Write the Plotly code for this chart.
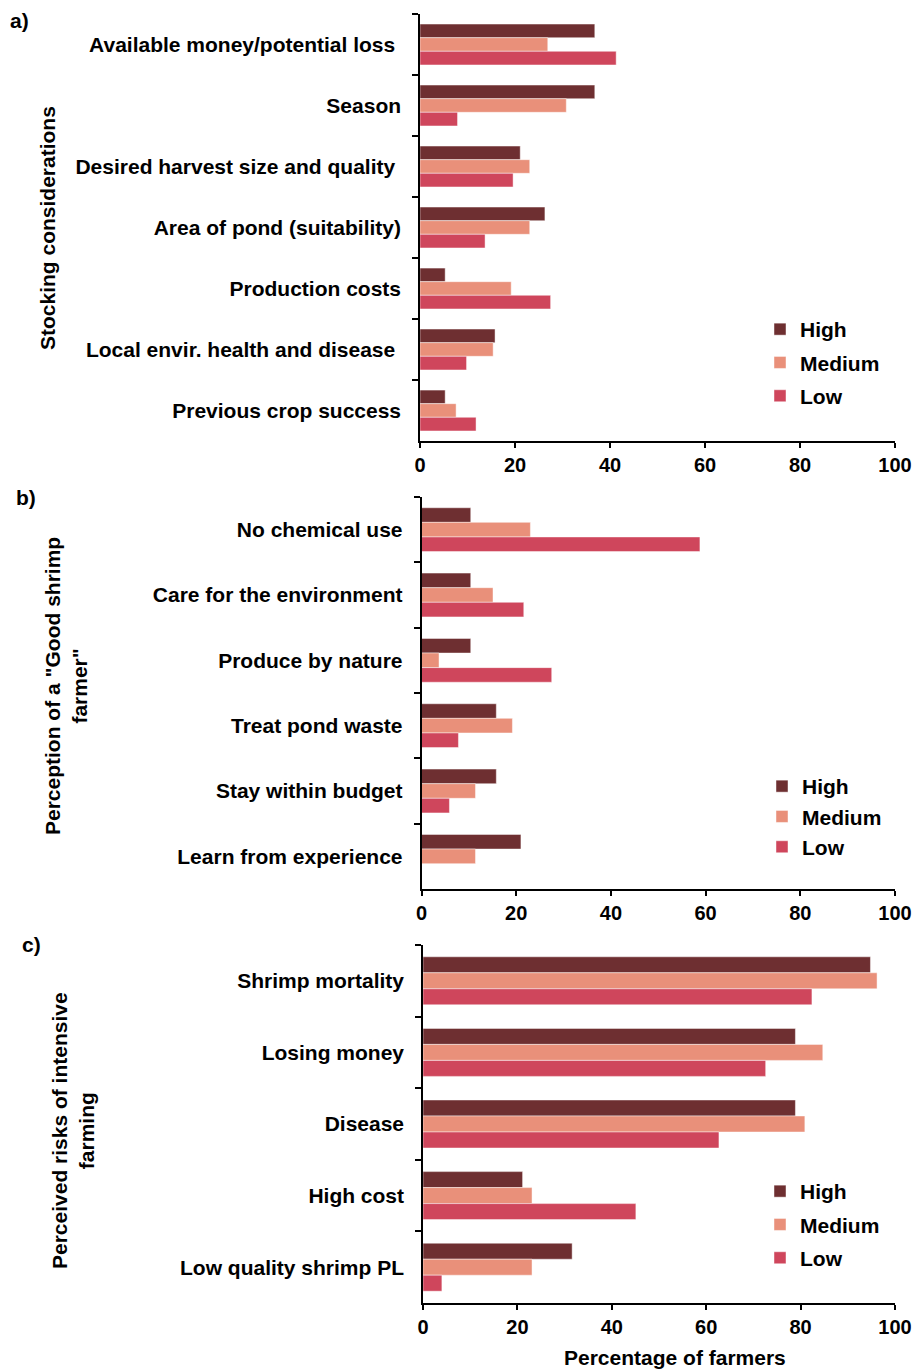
import plotly.graph_objects as go

W, H = 914, 1369

# ---- data -------------------------------------------------------------
levels = ["High", "Medium", "Low"]
colors = {"High": "#6E2F31", "Medium": "#E9907A", "Low": "#CF465C"}

stock_cats = [
    "Available money/potential loss\u00a0",
    "Season",
    "Desired harvest size and quality\u00a0",
    "Area of pond (suitability)",
    "Production costs",
    "Local envir. health and disease\u00a0",
    "Previous crop success",
]
stock_high = [36.8, 36.8, 21.1, 26.3, 5.3, 15.8, 5.3]
stock_medium = [26.9, 30.8, 23.1, 23.1, 19.2, 15.4, 7.6]
stock_low = [41.3, 7.9, 19.6, 13.7, 27.5, 9.8, 11.8]

good_cats = [
    "No chemical use",
    "Care for the environment",
    "Produce by nature",
    "Treat pond waste",
    "Stay within budget",
    "Learn from experience",
]
good_high = [10.4, 10.4, 10.4, 15.8, 15.8, 21.0]
good_medium = [23.0, 15.1, 3.7, 19.2, 11.4, 11.4]
good_low = [58.8, 21.6, 27.5, 7.8, 5.9, 0.0]

risk_cats = [
    "Shrimp mortality",
    "Losing money",
    "Disease",
    "High cost",
    "Low quality shrimp PL",
]
risk_high = [94.8, 78.9, 78.9, 21.1, 31.6]
risk_medium = [96.2, 84.7, 80.9, 23.1, 23.1]
risk_low = [82.4, 72.6, 62.7, 45.1, 4.0]

x_ticks = [0, 20, 40, 60, 80, 100]

panels = [
    (stock_cats, [stock_high, stock_medium, stock_low]),
    (good_cats, [good_high, good_medium, good_low]),
    (risk_cats, [risk_high, risk_medium, risk_low]),
]

# ---- geometry helpers (pixel -> paper) --------------------------------
def px(x):
    return x / W

def py(y):
    return 1 - y / H

# plot areas in pixels: (left, right, top, bottom)
areas = [
    (420, 895, 14, 441),
    (421.5, 895, 497, 889),
    (423, 895, 945, 1303),
]
# legend top-left corners and gap between entries
legend_pos = [(760, 309, 3), (762, 766, 0), (760, 1171, 3)]

FONT = "Liberation Sans, Arial, sans-serif"
FS = 21
fig = go.Figure()

for i, (cats, series) in enumerate(panels):
    n = "" if i == 0 else str(i + 1)
    leg = "legend" if i == 0 else f"legend{i + 1}"
    for lvl, vals in zip(levels, series):
        fig.add_trace(go.Bar(
            y=cats, x=vals, name=lvl, orientation="h",
            marker=dict(color=colors[lvl],
                        line=dict(color="rgba(255,255,255,0.45)", width=1)),
            xaxis="x" + n, yaxis="y" + n, legend=leg,
            legendgroup=f"{lvl}{i}", showlegend=True,
        ))

layout = dict(
    width=W, height=H,
    margin=dict(l=0, r=0, t=0, b=0, autoexpand=False),
    paper_bgcolor="white", plot_bgcolor="white",
    font=dict(family=FONT, size=FS, color="black", weight="bold"),
    barmode="group", bargap=0.33, bargroupgap=0,
)

for i, (l, r, t, b) in enumerate(areas):
    n = "" if i == 0 else str(i + 1)
    layout["xaxis" + n] = dict(
        domain=[px(l), px(r)], anchor="y" + n, range=[0, 100],
        tickvals=x_ticks, ticktext=[str(v) for v in x_ticks],
        showline=True, linecolor="black", linewidth=1.5,
        ticks="outside", ticklen=5, tickwidth=1.5, tickcolor="black",
        showgrid=False, zeroline=False, automargin=False,
        tickfont=dict(size=20, family=FONT, weight="bold"),
    )
    layout["yaxis" + n] = dict(
        domain=[py(b), py(t)], anchor="x" + n, type="category",
        autorange="reversed",
        showline=True, linecolor="black", linewidth=1.5,
        ticks="outside", tickson="boundaries", ticklen=6, tickwidth=1.5,
        tickcolor="black", showgrid=False, zeroline=False,
        ticklabelstandoff=13, automargin=False,
        tickfont=dict(size=FS, family=FONT, weight="bold"),
    )
    lx, ly, gap = legend_pos[i]
    layout["legend" if i == 0 else f"legend{i + 1}"] = dict(
        x=px(lx), y=py(ly), xanchor="left", yanchor="top",
        bgcolor="rgba(0,0,0,0)", traceorder="grouped", tracegroupgap=gap,
        font=dict(size=FS, family=FONT, weight="bold"),
        itemwidth=30,
    )

fig.update_layout(**layout)

# panel letters, axis titles
notes = [
    ("a)", 19, 20, 0),
    ("b)", 26, 498, 0),
    ("c)", 31, 944, 0),
    ("Stocking considerations", 48, 228, -90),
    ("Perception of a \"Good shrimp<br>farmer\"", 66, 686, -90),
    ("Perceived risks of intensive<br>farming", 73, 1131, -90),
    ("Percentage of farmers", 675, 1357, 0),
]
for text, x, y, ang in notes:
    fig.add_annotation(
        text=text, x=px(x), y=py(y), xref="paper", yref="paper",
        xanchor="center", yanchor="middle", showarrow=False,
        textangle=ang, align="center",
        font=dict(size=FS, family=FONT, weight="bold", color="black"),
    )

fig.write_html("out.html")
